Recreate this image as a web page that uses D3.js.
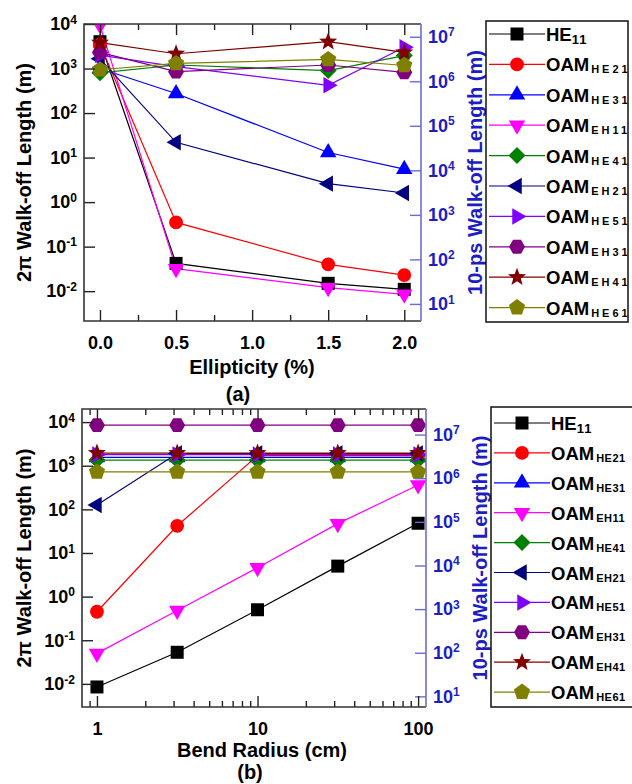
<!DOCTYPE html>
<html lang="en">
<head>
<meta charset="UTF-8">
<title>Walk-off length vs ellipticity and bend radius</title>
<script src="https://d3js.org/d3.v7.min.js"></script>
<style>
  body { margin: 0; background: #fff; font-family: Arial, "Liberation Sans", sans-serif; }
  text { font-weight: bold; }
</style>
</head>
<body>
<div id="chart"></div>
<script>
// mode names, legend order
const modes = ["HE11", "HE21", "HE31", "EH11", "HE41", "EH21", "HE51", "EH31", "EH41", "HE61"];
const colors = ["#000000", "#ff0000", "#0000ff", "#ff00ff", "#008000", "#000080", "#8000ff", "#800080", "#800000", "#808000"];
const shapes = ["square", "circle", "up", "down", "diamond", "left", "right", "hexagon", "star", "pentagon"];

// (a) 2pi walk-off length (m) vs ellipticity (%)
const ellipticity = [0, 0.5, 1.5, 2.0];
const aHE11 = [4000, 0.042, 0.015, 0.011];
const aHE21 = [3500, 0.35, 0.04, 0.023];
const aHE31 = [1000, 275, 13, 5.5];
const aEH11 = [9500, 0.032, 0.012, 0.0085];
const aHE41 = [800, 1200, 900, 1950];
const aEH21 = [1650, 22, 2.6, 1.6];
const aHE51 = [2000, 1100, 420, 3000];
const aEH31 = [2300, 850, 1200, 820];
const aEH41 = [3800, 2150, 4000, 2300];
const aHE61 = [940, 1300, 1600, 1170];

// (b) 2pi walk-off length (m) vs bend radius (cm)
const bendRadius = [1, 3.16, 10, 31.6, 100];
const bHE11 = [0.0085, 0.053, 0.5, 5, 48];
const bHE21 = [0.45, 42, 1700, 1700, 1700];
const bHE31 = [1550, 1550, 1550, 1550, 1550];
const bEH11 = [0.05, 0.48, 4.6, 47, 360];
const bHE41 = [1350, 1350, 1350, 1350, 1350];
const bEH21 = [126, 1900, 1900, 1900, 1900];
const bHE51 = [1800, 1800, 1800, 1800, 1800];
const bEH31 = [8500, 8500, 8500, 8500, 8500];
const bEH41 = [1950, 1950, 1950, 1950, 1950];
const bHE61 = [720, 720, 720, 720, 720];

// tick labels
const leftDecades = [1e-2, 1e-1, 1e0, 1e1, 1e2, 1e3, 1e4];
const rightDecades = [1e1, 1e2, 1e3, 1e4, 1e5, 1e6, 1e7];
const ellipMajor = [0, 0.5, 1.0, 1.5, 2.0];
const ellipMinor = [0.25, 0.75, 1.25, 1.75];
const bendMajor = [1, 10, 100];
const bendMinor = [0.9, 2, 3, 4, 5, 6, 7, 8, 9, 20, 30, 40, 50, 60, 70, 80, 90];

// 10 ps / (2pi delay at 1550 nm ~ 5.17 fs)
const ratio = 1934;
const blueText = "#1d1dc4";
const blueAxis = "#6b6bd4";

const svg = d3.select("#chart").append("svg")
  .attr("width", 632).attr("height", 784);

// marker shapes
function poly(n, r, start) {
  const pts = d3.range(n).map(i => {
    const a = (start + i * 360 / n) * Math.PI / 180;
    return [r * Math.cos(a), r * Math.sin(a)];
  });
  return "M" + pts.map(p => p.join(",")).join("L") + "Z";
}
function starPath(ro, ri) {
  const pts = d3.range(10).map(i => {
    const a = (-90 + i * 36) * Math.PI / 180;
    const r = i % 2 ? ri : ro;
    return [r * Math.cos(a), r * Math.sin(a)];
  });
  return "M" + pts.map(p => p.join(",")).join("L") + "Z";
}
function markerPath(kind) {
  switch (kind) {
    case "square": return "M-6.5,-6.5h13v13h-13Z";
    case "circle": return d3.symbol(d3.symbolCircle, 150)();
    case "up": return poly(3, 9.5, -90);
    case "down": return poly(3, 9.5, 90);
    case "left": return poly(3, 9.5, 180);
    case "right": return poly(3, 9.5, 0);
    case "diamond": return poly(4, 8.5, 0);
    case "hexagon": return poly(6, 8, 0);
    case "star": return starPath(9.5, 4);
    case "pentagon": return poly(5, 8.5, -90);
  }
}

function supLabel(sel) {
  sel.each(function (d) {
    const t = d3.select(this);
    t.text("");
    t.append("tspan").text("10");
    t.append("tspan").attr("dy", "-0.55em").attr("font-size", "12px")
      .text(Math.round(Math.log10(d)));
  });
}

function panel(p) {
  const g = svg.append("g");
  const [x0, x1] = p.x.range();
  const [y0, y1] = p.yL.range(); // y0 bottom, y1 top

  g.append("clipPath").attr("id", p.id + "-clip")
    .append("rect").attr("x", x0).attr("y", y1)
    .attr("width", x1 - x0).attr("height", y0 - y1);

  // series
  const plot = g.append("g").attr("clip-path", `url(#${p.id}-clip)`);
  p.series.forEach((vals, i) => {
    const pts = vals.map((v, j) => [p.x(p.xs[j]), p.yL(v)]);
    plot.append("path")
      .attr("d", d3.line()(pts))
      .attr("fill", "none")
      .attr("stroke", colors[i])
      .attr("stroke-width", 1.2);
  });
  p.series.forEach((vals, i) => {
    plot.selectAll(null).data(vals).join("path")
      .attr("d", markerPath(shapes[i]))
      .attr("transform", (v, j) => `translate(${p.x(p.xs[j])},${p.yL(v)})`)
      .attr("fill", colors[i]);
  });

  // left axis
  const la = g.append("g").attr("transform", `translate(${x0},0)`)
    .call(d3.axisLeft(p.yL).tickValues(leftDecades).tickSize(-11).tickPadding(7));
  la.select(".domain").remove();
  la.selectAll("line").attr("stroke", "#222").attr("stroke-width", 1.4);
  la.selectAll("text").attr("font-size", "18px").attr("fill", "#000").call(supLabel);

  // right axis
  const ra = g.append("g").attr("transform", `translate(${x1},0)`)
    .call(d3.axisRight(p.yR).tickValues(rightDecades).tickSize(-11).tickPadding(7));
  ra.select(".domain").remove();
  ra.selectAll("line").attr("stroke", blueAxis).attr("stroke-width", 1.4);
  ra.selectAll("text").attr("font-size", "18px").attr("fill", blueText).call(supLabel);

  // bottom / top axes
  const ba = g.append("g").attr("transform", `translate(0,${y0})`)
    .call(d3.axisBottom(p.x).tickValues(p.major).tickSize(-11).tickPadding(15).tickFormat(p.fmt));
  const bm = g.append("g").attr("transform", `translate(0,${y0})`)
    .call(d3.axisBottom(p.x).tickValues(p.minor).tickSize(-6).tickFormat(""));
  const ta = g.append("g").attr("transform", `translate(0,${y1})`)
    .call(d3.axisTop(p.x).tickValues(p.major).tickSize(-11).tickFormat(""));
  const tm = g.append("g").attr("transform", `translate(0,${y1})`)
    .call(d3.axisTop(p.x).tickValues(p.minor).tickSize(-6).tickFormat(""));
  [ba, bm, ta, tm].forEach(a => {
    a.select(".domain").remove();
    a.selectAll("line").attr("stroke", "#222").attr("stroke-width", 1.4);
  });
  ba.selectAll("text").attr("font-size", "18px").attr("fill", "#000");

  // frame
  g.append("path").attr("d", `M${x1},${y1}H${x0}V${y0}H${x1}`)
    .attr("fill", "none").attr("stroke", "#333").attr("stroke-width", 1.6);
  g.append("line").attr("x1", x1).attr("x2", x1).attr("y1", y1).attr("y2", y0)
    .attr("stroke", blueAxis).attr("stroke-width", 1.6);

  // axis titles
  const yc = (y0 + y1) / 2;
  g.append("text").attr("transform", `translate(31,${yc}) rotate(-90)`)
    .attr("text-anchor", "middle").attr("font-size", "20px")
    .text("2π Walk-off Length (m)");
  g.append("text").attr("transform", `translate(${x1 + 61},${yc}) rotate(-90)`)
    .attr("text-anchor", "middle").attr("font-size", "20px").attr("fill", blueText)
    .text("10-ps Walk-off Length (m)");
  g.append("text").attr("x", p.titleX).attr("y", y0 + p.titleDy)
    .attr("text-anchor", "middle").attr("font-size", "20px").text(p.xTitle);
  g.append("text").attr("x", p.tagX).attr("y", y0 + p.tagDy)
    .attr("text-anchor", "middle").attr("font-size", "20px").text(p.tag);

  // legend
  const L = p.legend;
  g.append("rect").attr("x", L.x).attr("y", L.y).attr("width", L.w).attr("height", L.h)
    .attr("fill", "#fff").attr("stroke", "#111").attr("stroke-width", 1.5);
  modes.forEach((m, i) => {
    const yy = L.first + i * L.step;
    const row = g.append("g");
    row.append("line").attr("x1", L.x + 3).attr("x2", L.x + 59).attr("y1", yy).attr("y2", yy)
      .attr("stroke", colors[i]).attr("stroke-width", 1.2);
    row.append("path").attr("d", markerPath(shapes[i]))
      .attr("transform", `translate(${L.x + 31},${yy})`).attr("fill", colors[i]);
    const t = row.append("text").attr("x", L.x + 60).attr("y", yy + 7).attr("font-size", "18.5px");
    if (i === 0) {
      t.append("tspan").text("HE");
      t.append("tspan").attr("dy", 3).attr("font-size", "13px").attr("letter-spacing", "1px").text("11");
    } else {
      t.append("tspan").text("OAM");
      t.append("tspan").attr("dx", 2).attr("dy", 2).attr("font-size", "11px")
        .attr("letter-spacing", L.spacing).text(m);
    }
  });
}

const logA = [Math.pow(10, -2.67), 1e4];
const logB = [Math.pow(10, -2.53), Math.pow(10, 4.3)];

panel({
  id: "a",
  xs: ellipticity,
  series: [aHE11, aHE21, aHE31, aEH11, aHE41, aEH21, aHE51, aEH31, aEH41, aHE61],
  x: d3.scaleLinear().domain([-0.105, 2.11]).range([84, 421]),
  yL: d3.scaleLog().domain(logA).range([321, 24]),
  yR: d3.scaleLog().domain(logA.map(v => v * ratio)).range([321, 24]),
  major: ellipMajor, minor: ellipMinor, fmt: d3.format(".1f"),
  xTitle: "Ellipticity (%)", titleX: 252, titleDy: 53, tag: "(a)", tagX: 238, tagDy: 80,
  legend: { x: 486, y: 21, w: 142, h: 301, first: 34, step: 30.4, spacing: "3px" }
});

panel({
  id: "b",
  xs: bendRadius,
  series: [bHE11, bHE21, bHE31, bEH11, bHE41, bEH21, bHE51, bEH31, bEH41, bHE61],
  x: d3.scaleLog().domain([0.807, 112]).range([82, 426]),
  yL: d3.scaleLog().domain(logB).range([707, 409]),
  yR: d3.scaleLog().domain(logB.map(v => v * ratio)).range([707, 409]),
  major: bendMajor, minor: bendMinor, fmt: d3.format("d"),
  xTitle: "Bend Radius (cm)", titleX: 262, titleDy: 50, tag: "(b)", tagX: 250, tagDy: 72,
  legend: { x: 491, y: 407, w: 160, h: 300, first: 423, step: 29.9, spacing: "0.5px" }
});
</script>
</body>
</html>
